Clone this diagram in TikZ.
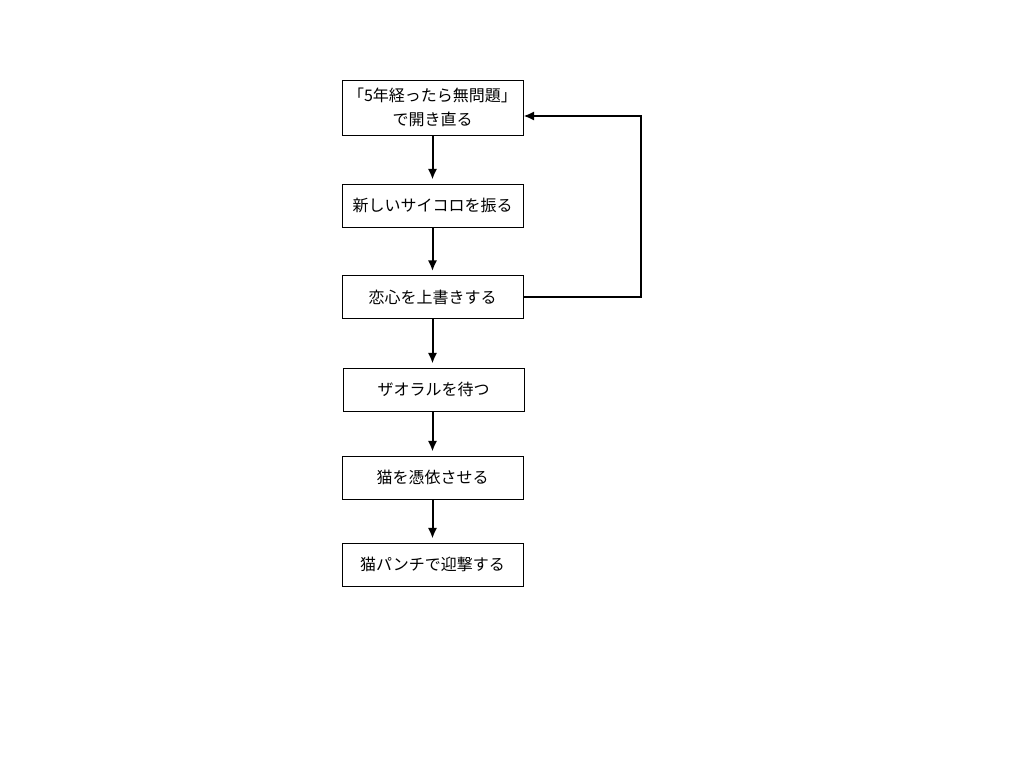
\documentclass[tikz,border=0pt]{standalone}
\usepackage{fontspec}
\setmainfont{Noto Sans CJK JP}
\usetikzlibrary{arrows.meta}
\begin{document}
\begin{tikzpicture}[x=0.75pt, y=-0.75pt, font=\fontsize{12pt}{18pt}\selectfont,
  box/.style={rectangle, draw, fill=white, line width=0.75pt, minimum width=135.75pt, minimum height=32.25pt, inner sep=0pt, align=center},
  flow/.style={line width=1.5pt, -{Latex[length=8pt,width=7pt]}, shorten >=3pt}]
\useasboundingbox (0,0) rectangle (1024,768);
\node[box, minimum height=41.25pt] (A) at (432.5,107.5) {「5年経ったら無問題」\\で開き直る};
\node[box] (B) at (432.5,205.5) {新しいサイコロを振る};
\node[box] (C) at (432.5,297) {恋心を上書きする};
\node[box] (D) at (433.5,389.5) {ザオラルを待つ};
\node[box] (E) at (432.5,477.5) {猫を憑依させる};
\node[box] (F) at (432.5,564.5) {猫パンチで迎撃する};
\coordinate (T) at (641,116);
\draw[flow] (A) -- (B);
\draw[flow] (B) -- (C);
\draw[flow] (C) -- (C |- D.north);
\draw[flow] (D.south -| E) -- (E);
\draw[flow] (E) -- (F);
\draw[flow, shorten >=0pt] (C.east) -- (C.east -| T) -- (T) -- (A.east |- T);
\end{tikzpicture}
\end{document}
